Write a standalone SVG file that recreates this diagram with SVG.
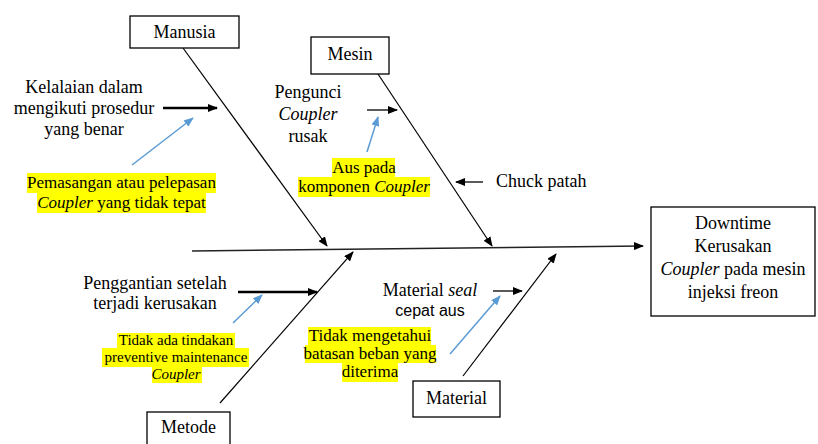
<svg xmlns="http://www.w3.org/2000/svg" width="818" height="444" viewBox="0 0 818 444">
<defs>
<marker id="ah" markerUnits="userSpaceOnUse" markerWidth="10" markerHeight="8" refX="9" refY="4" orient="auto"><path d="M0,0 L10,4 L0,8 Z" fill="#000"/></marker>
<marker id="ab" markerUnits="userSpaceOnUse" markerWidth="10" markerHeight="8" refX="9" refY="4" orient="auto"><path d="M0,0 L10,4 L0,8 Z" fill="#5b9bd5"/></marker>
</defs>
<rect width="818" height="444" fill="#fff"/>
<g id="connectors" fill="none">
<line x1="192" y1="251" x2="643" y2="246" stroke="#222" stroke-width="1.6" marker-end="url(#ah)"/>
<line stroke="#000" stroke-width="1.2" x1="183" y1="48" x2="327" y2="246" marker-end="url(#ah)"/>
<line stroke="#000" stroke-width="1.2" x1="378" y1="74" x2="492" y2="246" marker-end="url(#ah)"/>
<line stroke="#000" stroke-width="1.2" x1="220" y1="403" x2="353" y2="252" marker-end="url(#ah)"/>
<line stroke="#000" stroke-width="1.2" x1="463" y1="376" x2="556" y2="254" marker-end="url(#ah)"/>
<line x1="163" y1="108" x2="217" y2="108" stroke="#000" stroke-width="2.5" marker-end="url(#ah)"/>
<line x1="367" y1="110" x2="397" y2="110" stroke="#000" stroke-width="1.3" marker-end="url(#ah)"/>
<line x1="483" y1="182" x2="456" y2="182" stroke="#000" stroke-width="1.3" marker-end="url(#ah)"/>
<line x1="238" y1="292" x2="317" y2="292" stroke="#000" stroke-width="2.5" marker-end="url(#ah)"/>
<line x1="493" y1="291" x2="522" y2="291" stroke="#000" stroke-width="1.3" marker-end="url(#ah)"/>
<line stroke="#5b9bd5" stroke-width="1.5" x1="132" y1="165" x2="193" y2="118" marker-end="url(#ab)"/>
<line stroke="#5b9bd5" stroke-width="1.5" x1="367" y1="152" x2="378" y2="117" marker-end="url(#ab)"/>
<line stroke="#5b9bd5" stroke-width="1.5" x1="233" y1="323" x2="262" y2="295" marker-end="url(#ab)"/>
<line stroke="#5b9bd5" stroke-width="1.5" x1="450" y1="354" x2="500" y2="296" marker-end="url(#ab)"/>
</g>
<g font-family="Liberation Serif" text-anchor="middle">
<g id="manusia">
<rect fill="#fff" stroke="#000" stroke-width="1.3" x="130" y="16" width="109" height="32"/>
<text transform="translate(184.5 38) scale(0.5)" font-size="36">Manusia</text>
</g>
<g id="mesin">
<rect fill="#fff" stroke="#000" stroke-width="1.3" x="311" y="37" width="78" height="37"/>
<text transform="translate(350 60) scale(0.5)" font-size="36">Mesin</text>
</g>
<g id="metode">
<rect fill="#fff" stroke="#000" stroke-width="1.3" x="147" y="412" width="83" height="40"/>
<text transform="translate(188.5 433) scale(0.5)" font-size="36">Metode</text>
</g>
<g id="material">
<rect fill="#fff" stroke="#000" stroke-width="1.3" x="413" y="381" width="87" height="36"/>
<text transform="translate(456.5 404) scale(0.5)" font-size="36">Material</text>
</g>
<g id="effect">
<rect fill="#fff" stroke="#000" stroke-width="1.3" x="651" y="207" width="164" height="109"/>
<text transform="translate(733 229) scale(0.5)" font-size="36">Downtime</text>
<text transform="translate(733 252) scale(0.5)" font-size="36">Kerusakan</text>
<text transform="translate(733 275) scale(0.5)" font-size="36"><tspan font-style="italic">Coupler</tspan> pada mesin</text>
<text transform="translate(733 298) scale(0.5)" font-size="36">injeksi freon</text>
</g>
<g id="cause-kelalaian">
<text transform="translate(84 93) scale(0.5)" font-size="36">Kelalaian dalam</text>
<text transform="translate(84 114) scale(0.5)" font-size="36">mengikuti prosedur</text>
<text transform="translate(84 135) scale(0.5)" font-size="36">yang benar</text>
</g>
<g id="cause-pemasangan">
<rect fill="#ffff00" x="27" y="173" width="189" height="20"/>
<rect fill="#ffff00" x="37" y="193" width="169" height="20"/>
<text transform="translate(121.5 188) scale(0.5)" font-size="34">Pemasangan atau pelepasan</text>
<text transform="translate(121.5 208) scale(0.5)" font-size="34"><tspan font-style="italic">Coupler</tspan> yang tidak tepat</text>
</g>
<g id="cause-pengunci">
<text transform="translate(308 98) scale(0.5)" font-size="36">Pengunci</text>
<text transform="translate(308 120) scale(0.5)" font-size="36" font-style="italic">Coupler</text>
<text transform="translate(308 142) scale(0.5)" font-size="36">rusak</text>
</g>
<g id="cause-aus">
<rect fill="#ffff00" x="332" y="158" width="63" height="19"/>
<rect fill="#ffff00" x="298" y="177" width="132" height="20"/>
<text transform="translate(364 173) scale(0.5)" font-size="34">Aus pada</text>
<text transform="translate(364 192) scale(0.5)" font-size="34">komponen <tspan font-style="italic">Coupler</tspan></text>
</g>
<g id="cause-chuck">
<text transform="translate(496 187) scale(0.5)" font-size="36" text-anchor="start">Chuck patah</text>
</g>
<g id="cause-penggantian">
<text transform="translate(155 289) scale(0.5)" font-size="36">Penggantian setelah</text>
<text transform="translate(155 309) scale(0.5)" font-size="36">terjadi kerusakan</text>
</g>
<g id="cause-preventive">
<rect fill="#ffff00" x="117" y="333" width="118" height="15"/>
<rect fill="#ffff00" x="102" y="348" width="147" height="19"/>
<rect fill="#ffff00" x="152" y="367" width="50" height="16"/>
<text transform="translate(176 345) scale(0.5)" font-size="30">Tidak ada tindakan</text>
<text transform="translate(176 362) scale(0.5)" font-size="30">preventive maintenance</text>
<text transform="translate(176 379) scale(0.5)" font-size="30" font-style="italic">Coupler</text>
</g>
<g id="cause-seal">
<text transform="translate(430 296) scale(0.5)" font-size="36">Material <tspan font-style="italic">seal</tspan></text>
<text transform="translate(430 316) scale(0.5)" font-size="32" font-family="Liberation Sans">cepat aus</text>
</g>
<g id="cause-beban">
<rect fill="#ffff00" x="308" y="327" width="123" height="18"/>
<rect fill="#ffff00" x="305" y="345" width="131" height="18"/>
<rect fill="#ffff00" x="342" y="363" width="56" height="19"/>
<text transform="translate(370 341) scale(0.5)" font-size="34">Tidak mengetahui</text>
<text transform="translate(370 359) scale(0.5)" font-size="34">batasan beban yang</text>
<text transform="translate(370 377) scale(0.5)" font-size="34">diterima</text>
</g>
</g>
</svg>
